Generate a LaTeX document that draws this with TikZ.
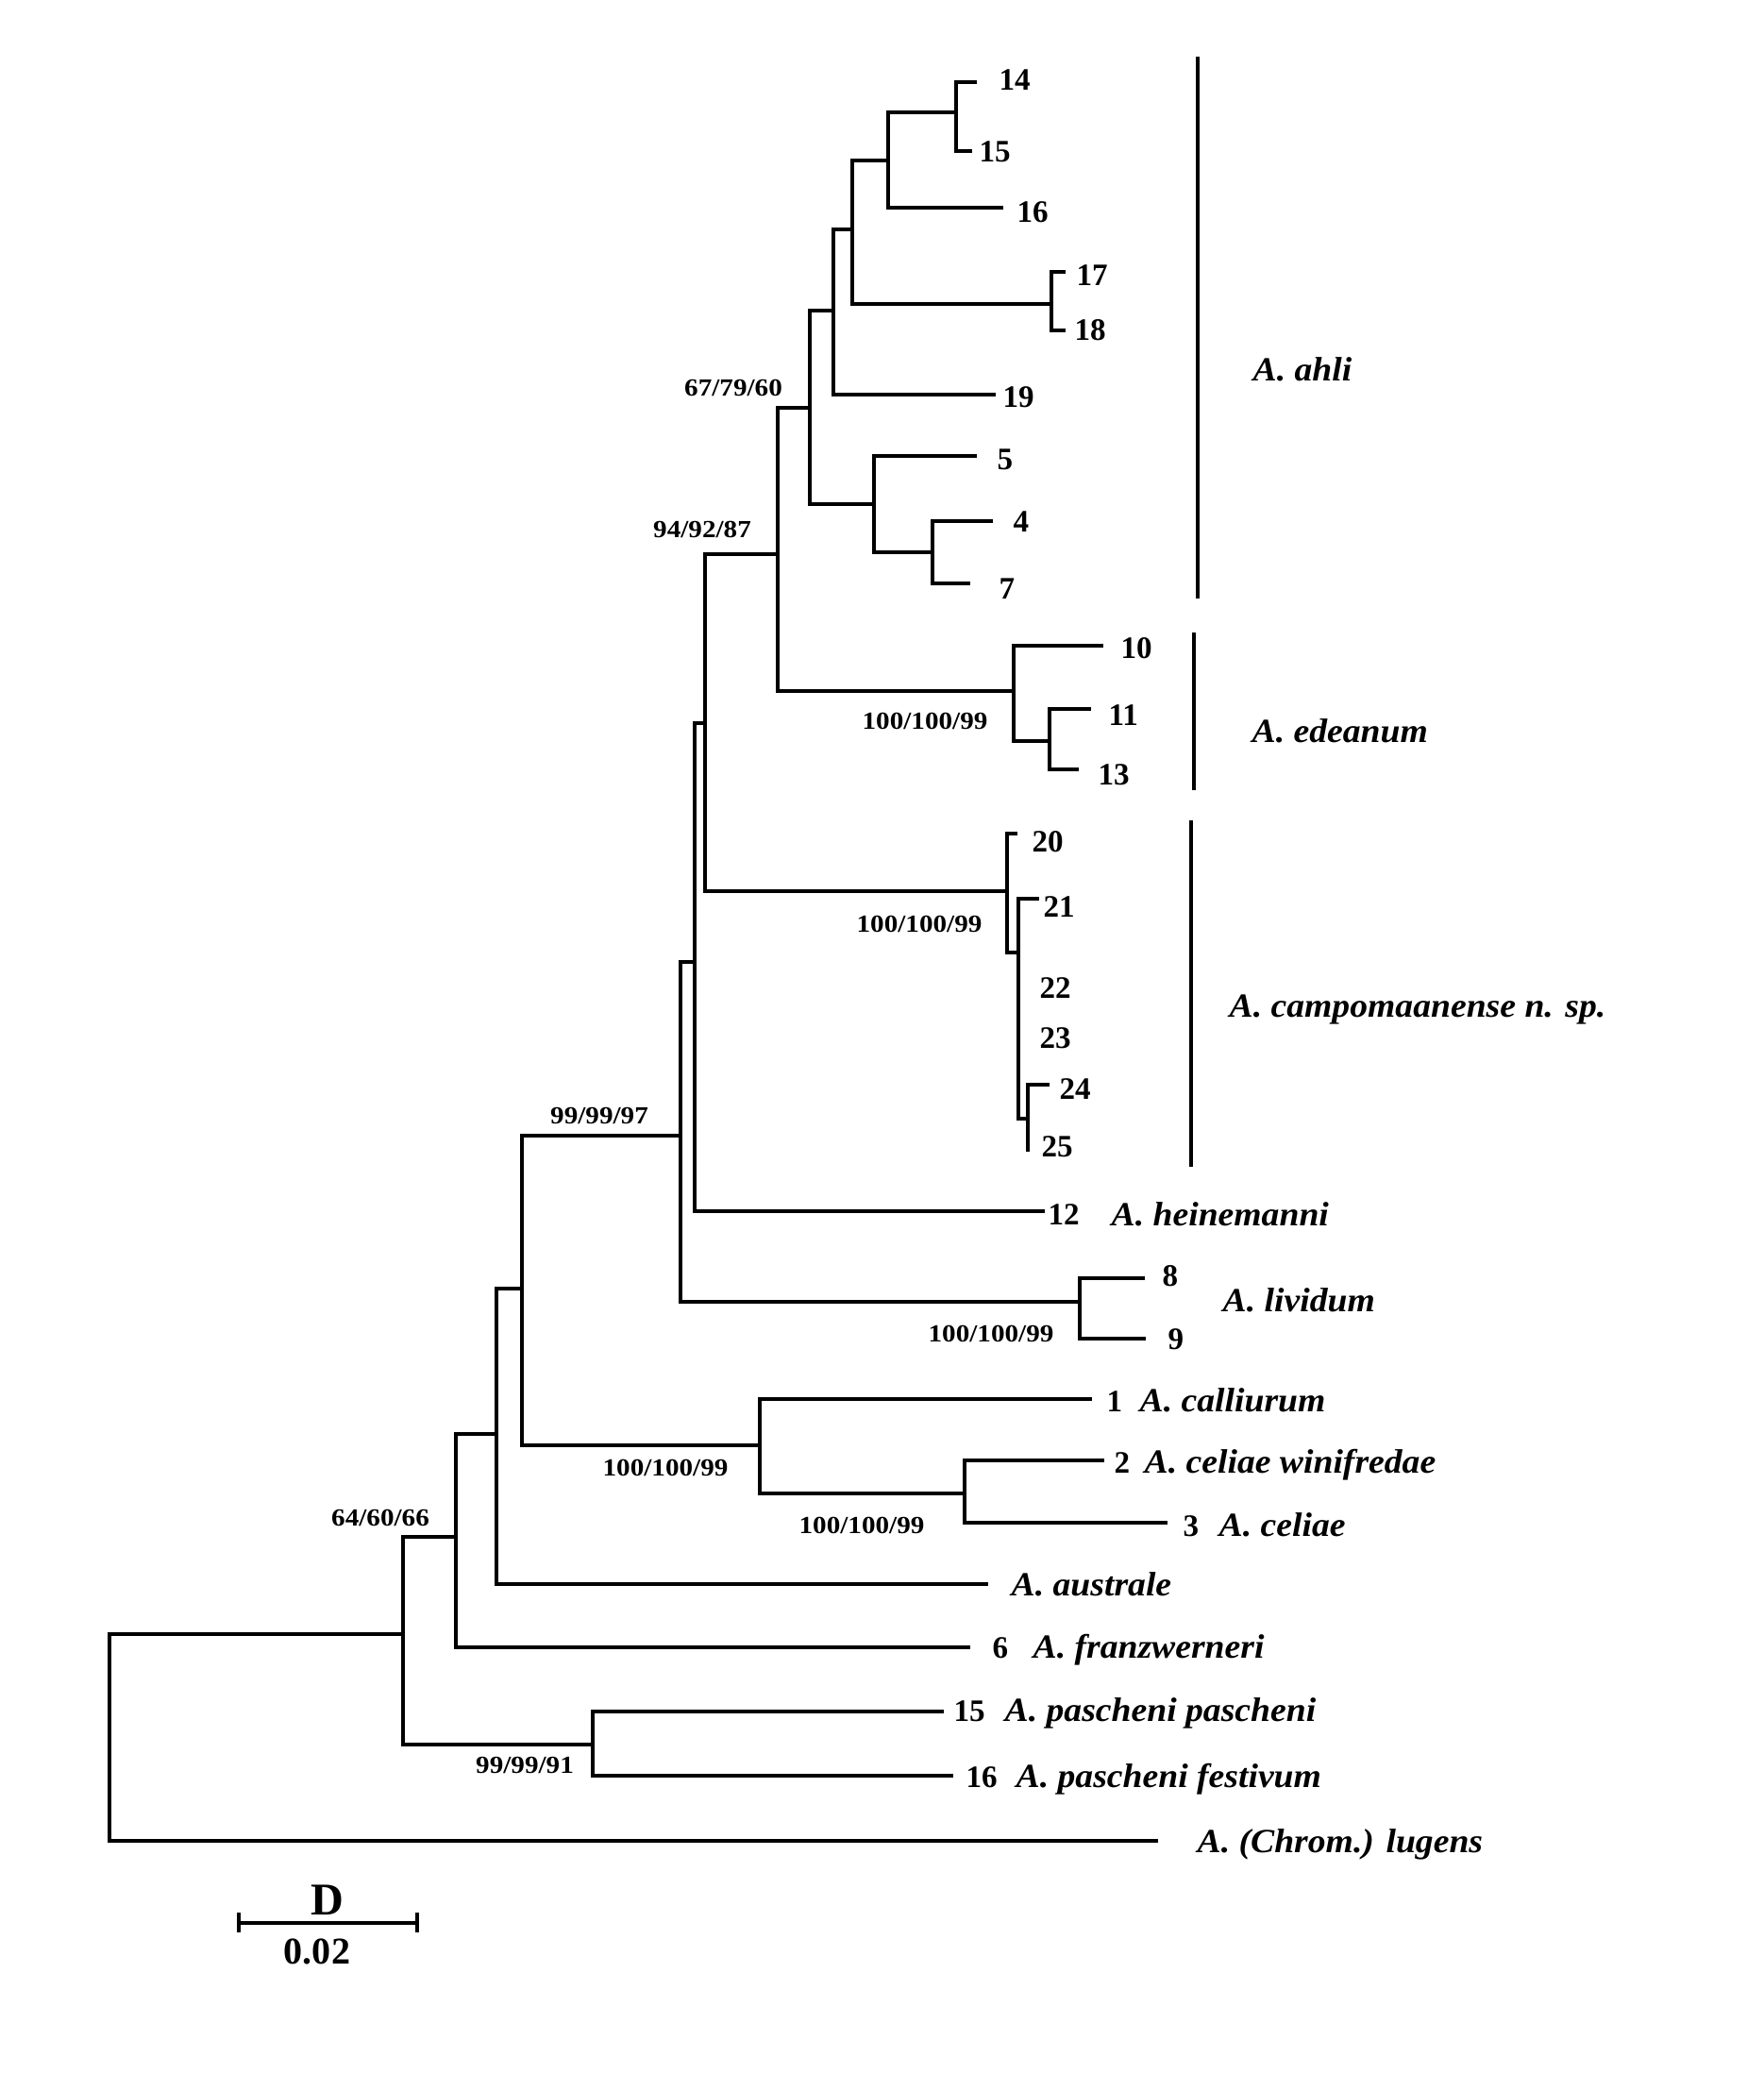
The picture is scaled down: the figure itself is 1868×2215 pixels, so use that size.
\documentclass[tikz,border=0pt]{standalone}
\usepackage{fontspec}
\setmainfont{Liberation Serif}
\newfontfamily\spfam[FakeStretch=1.05]{Liberation Serif}
\newfontfamily\supfam[FakeStretch=1.12]{Liberation Serif}
\begin{document}
\begin{tikzpicture}[x=0.01cm,y=-0.01cm,
  br/.style={line width=1.2pt, line join=miter},
  grpbar/.style={line width=1.3pt},
  num/.style={anchor=base west, inner sep=0pt, font=\fontsize{9.4pt}{11pt}\selectfont\bfseries},
  sp/.style={anchor=base west, inner sep=0pt, font=\fontsize{10.2pt}{12pt}\spfam\bfseries\itshape},
  sup/.style={anchor=base, inner sep=0pt, font=\fontsize{7.4pt}{9pt}\supfam\bfseries}]
\useasboundingbox (0,0) rectangle (1868,2215);
% leaf tips
\coordinate (t14) at (1035,87);
\coordinate (t15) at (1030,160);
\coordinate (t16) at (1063,220);
\coordinate (t17) at (1129,288);
\coordinate (t18) at (1129,350);
\coordinate (t19) at (1055,418);
\coordinate (t5) at (1035,483);
\coordinate (t4) at (1052,552);
\coordinate (t7) at (1028,618);
\coordinate (t10) at (1169,684);
\coordinate (t11) at (1156,751);
\coordinate (t13) at (1143,815);
\coordinate (t20) at (1078,883);
\coordinate (t21) at (1101,952);
\coordinate (t24) at (1112,1149);
\coordinate (t25) at (1089,1220);
\coordinate (t12) at (1107,1283);
\coordinate (t8) at (1213,1354);
\coordinate (t9) at (1214,1418);
\coordinate (t1) at (1157,1482);
\coordinate (t2) at (1170,1547);
\coordinate (t3) at (1237,1613);
\coordinate (tAus) at (1047,1678);
\coordinate (t6) at (1028,1745);
\coordinate (t15p) at (1000,1813);
\coordinate (t16p) at (1010,1881);
\coordinate (tLug) at (1227,1950);
% internal nodes
\coordinate (n1415) at (1013,119);
\coordinate (nA) at (941,170);
\coordinate (n1718) at (1114,322);
\coordinate (nB) at (903,243);
\coordinate (nC) at (883,329);
\coordinate (nF) at (988,585);
\coordinate (nE) at (926,534);
\coordinate (nD) at (858,432);
\coordinate (n1113) at (1112,785);
\coordinate (nI) at (1074,732);
\coordinate (nG) at (824,587);
\coordinate (nV) at (1089,1185);
\coordinate (nU) at (1079,1009);
\coordinate (nT) at (1067,944);
\coordinate (nH) at (747,766);
\coordinate (nJ) at (736,1019);
\coordinate (nLiv) at (1144,1379);
\coordinate (nK) at (721,1203);
\coordinate (nS) at (1022,1582);
\coordinate (nN) at (805,1531);
\coordinate (nL) at (553,1365);
\coordinate (nM) at (526,1519);
\coordinate (nQ) at (483,1628);
\coordinate (nP) at (628,1848);
\coordinate (nO) at (427,1731);
\coordinate (root) at (116,1840);
% branches
\draw[br] (n1415) |- (t14); \draw[br] (n1415) |- (t15);
\draw[br] (nA) |- (n1415); \draw[br] (nA) |- (t16);
\draw[br] (n1718) |- (t17); \draw[br] (n1718) |- (t18);
\draw[br] (nB) |- (nA); \draw[br] (nB) |- (n1718);
\draw[br] (nC) |- (nB); \draw[br] (nC) |- (t19);
\draw[br] (nF) |- (t4); \draw[br] (nF) |- (t7);
\draw[br] (nE) |- (t5); \draw[br] (nE) |- (nF);
\draw[br] (nD) |- (nC); \draw[br] (nD) |- (nE);
\draw[br] (n1113) |- (t11); \draw[br] (n1113) |- (t13);
\draw[br] (nI) |- (t10); \draw[br] (nI) |- (n1113);
\draw[br] (nG) |- (nD); \draw[br] (nG) |- (nI);
\draw[br] (nV) |- (t24); \draw[br] (nV) |- (t25);
\draw[br] (nU) |- (t21); \draw[br] (nU) |- (nV);
\draw[br] (nT) |- (t20); \draw[br] (nT) |- (nU);
\draw[br] (nH) |- (nG); \draw[br] (nH) |- (nT);
\draw[br] (nJ) |- (nH); \draw[br] (nJ) |- (t12);
\draw[br] (nLiv) |- (t8); \draw[br] (nLiv) |- (t9);
\draw[br] (nK) |- (nJ); \draw[br] (nK) |- (nLiv);
\draw[br] (nS) |- (t2); \draw[br] (nS) |- (t3);
\draw[br] (nN) |- (t1); \draw[br] (nN) |- (nS);
\draw[br] (nL) |- (nK); \draw[br] (nL) |- (nN);
\draw[br] (nM) |- (nL); \draw[br] (nM) |- (tAus);
\draw[br] (nQ) |- (nM); \draw[br] (nQ) |- (t6);
\draw[br] (nP) |- (t15p); \draw[br] (nP) |- (t16p);
\draw[br] (nO) |- (nQ); \draw[br] (nO) |- (nP);
\draw[br] (root) |- (nO); \draw[br] (root) |- (tLug);
% leaf labels
\node[num] (l14) at (1058,95) {14};
\node[num] (l15) at (1037,171) {15};
\node[num] (l16) at (1077,235) {16};
\node[num] (l17) at (1140,302) {17};
\node[num] (l18) at (1138,360) {18};
\node[num] (l19) at (1062,431) {19};
\node[num] (l5) at (1056,497) {5};
\node[num] (l4) at (1073,563) {4};
\node[num] (l7) at (1058,634) {7};
\node[num] (l10) at (1187,697) {10};
\node[num] (l11) at (1174,768) {11};
\node[num] (l13) at (1163,831) {13};
\node[num] (l20) at (1093,902) {20};
\node[num] (l21) at (1105,971) {21};
\node[num] (l22) at (1101,1057) {22};
\node[num] (l23) at (1101,1110) {23};
\node[num] (l24) at (1122,1164) {24};
\node[num] (l25) at (1103,1225) {25};
\node[num] (l12) at (1110,1297) {12};
\node[sp] (s12) at (1177,1298) {A. heinemanni};
\node[num] (l8) at (1231,1362) {8};
\node[num] (l9) at (1237,1429) {9};
\node[sp] (sLiv) at (1295,1389) {A. lividum};
\node[num] (l1) at (1172,1495) {1};
\node[sp] (s1) at (1207,1495) {A. calliurum};
\node[num] (l2) at (1180,1560) {2};
\node[sp] (s2) at (1212,1560) {A. celiae winifredae};
\node[num] (l3) at (1253,1627) {3};
\node[sp] (s3) at (1291,1627) {A. celiae};
\node[sp] (sAus) at (1071,1690) {A. australe};
\node[num] (l6) at (1051,1756) {6};
\node[sp] (s6) at (1094,1756) {A. franzwerneri};
\node[num] (l15p) at (1010,1823) {15};
\node[sp] (s15p) at (1064,1823) {A. pascheni pascheni};
\node[num] (l16p) at (1023,1893) {16};
\node[sp] (s16p) at (1076,1893) {A. pascheni festivum};
\node[sp] (sLug) at (1268,1962) {A. (Chrom.) lugens};
% support values
\node[sup] (b1) at (777,419) {67/79/60};
\node[sup] (b2) at (744,569) {94/92/87};
\node[sup] (b3) at (980,772) {100/100/99};
\node[sup] (b4) at (974,987) {100/100/99};
\node[sup] (b5) at (635,1190) {99/99/97};
\node[sup] (b6) at (1050,1421) {100/100/99};
\node[sup] (b7) at (705,1563) {100/100/99};
\node[sup] (b8) at (913,1624) {100/100/99};
\node[sup] (b9) at (403,1616) {64/60/66};
\node[sup] (b10) at (556,1878) {99/99/91};
% group bars and labels
\coordinate (ga1) at (1269,60); \coordinate (ga2) at (1269,634);
\coordinate (ge1) at (1265,670); \coordinate (ge2) at (1265,837);
\coordinate (gc1) at (1262,869); \coordinate (gc2) at (1262,1236);
\draw[grpbar] (ga1) -- (ga2);
\draw[grpbar] (ge1) -- (ge2);
\draw[grpbar] (gc1) -- (gc2);
\node[sp] (gAhli) at (1327,403) {A. ahli};
\node[sp] (gEde) at (1326,786) {A. edeanum};
\node[sp] (gCampo) at (1302,1077) {A. campomaanense n. sp.};
% scale bar
\coordinate (sb1) at (253,2037); \coordinate (sb2) at (442,2037);
\draw[br] (sb1) -- (sb2);
\draw[br] (253,2026) -- (253,2047);
\draw[br] (442,2026) -- (442,2047);
\node[anchor=base, inner sep=0pt, font=\fontsize{13.7pt}{16pt}\selectfont\bfseries] (D) at (347,2028) {D};
\node[anchor=base, inner sep=0pt, font=\fontsize{11.4pt}{13pt}\selectfont\bfseries] (scale) at (336,2080) {0.02};
\end{tikzpicture}
\end{document}
